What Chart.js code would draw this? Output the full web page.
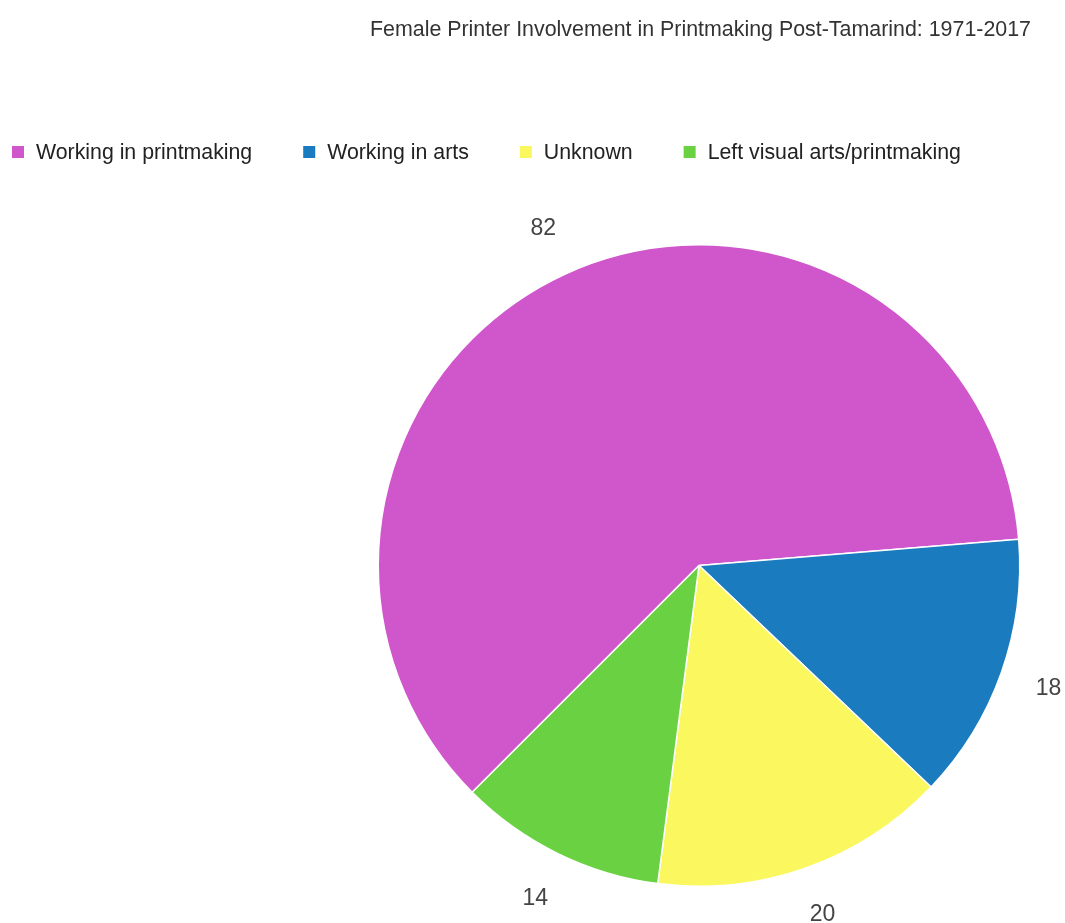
<!DOCTYPE html>
<html>
<head>
<meta charset="utf-8">
<script src="https://cdn.jsdelivr.net/npm/chart.js@4"></script>
<style>
  html, body { margin: 0; padding: 0; background: #fff; }
  #wrap { width: 1065px; height: 923px; }
</style>
</head>
<body>
<div id="wrap"><canvas id="pieChart" width="1065" height="923"></canvas></div>
<script>
const titleText = "Female Printer Involvement in Printmaking Post-Tamarind: 1971-2017";
const categories = ["Working in printmaking", "Working in arts", "Unknown", "Left visual arts/printmaking"];
const counts = [82, 18, 20, 14];
const sliceColors = ["#d056cb", "#1a7bbe", "#faf85e", "#6ad242"];

const fontFamily = "'Liberation Sans', Arial, sans-serif";

// title + legend drawn at fixed spots, slice values outside the pie
const decorPlugin = {
  id: "decor",
  afterDraw(chart) {
    const ctx = chart.ctx;
    ctx.save();

    // title, right aligned
    ctx.font = "21.4px " + fontFamily;
    ctx.fillStyle = "#333";
    ctx.textAlign = "right";
    ctx.textBaseline = "middle";
    ctx.fillText(titleText, 1031, 30);

    // legend row
    ctx.font = "21.3px " + fontFamily;
    ctx.textAlign = "left";
    let x = 12;
    chart.data.labels.forEach((label, i) => {
      ctx.fillStyle = chart.data.datasets[0].backgroundColor[i];
      ctx.fillRect(x, 146, 12, 12);
      ctx.fillStyle = "#222";
      ctx.fillText(label, x + 24, 153);
      x += 24 + ctx.measureText(label).width + 51;
    });

    // values outside slices
    const meta = chart.getDatasetMeta(0);
    ctx.font = "23px " + fontFamily;
    ctx.fillStyle = "#444";
    ctx.textAlign = "center";
    meta.data.forEach((arc, i) => {
      const mid = (arc.startAngle + arc.endAngle) / 2;
      const r = arc.outerRadius + 50;
      ctx.fillText(String(counts[i]), arc.x + Math.cos(mid) * r, arc.y + Math.sin(mid) * r);
    });
    ctx.restore();
  }
};

new Chart(document.getElementById("pieChart").getContext("2d"), {
  type: "pie",
  data: {
    labels: categories,
    datasets: [
      {
        data: counts,
        backgroundColor: sliceColors,
        borderColor: "#ffffff",
        borderWidth: 1.5,
        hoverOffset: 0,
      },
    ],
  },
  options: {
    responsive: false,
    animation: false,
    rotation: 225,
    layout: {
      padding: { top: 244, bottom: 36, left: 377, right: 44 },
    },
    plugins: {
      legend: { display: false },
      title: { display: false },
      tooltip: { enabled: false },
    },
  },
  plugins: [decorPlugin],
});
</script>
</body>
</html>
